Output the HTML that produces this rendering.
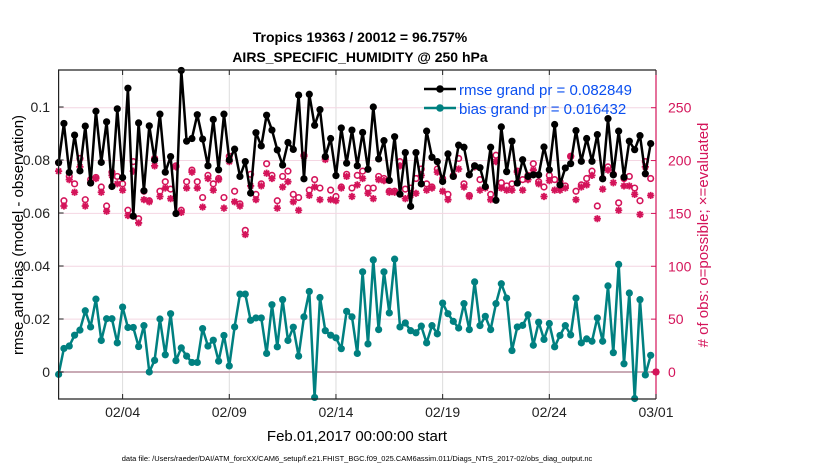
<!DOCTYPE html>
<html><head><meta charset="utf-8">
<style>
html,body{margin:0;padding:0;background:#fff;}
svg{display:block;font-family:"Liberation Sans",Arial,sans-serif;}
</style></head>
<body>
<svg id="chart" width="830" height="470" viewBox="0 0 830 470" xmlns="http://www.w3.org/2000/svg">
  <text x="360" y="42" text-anchor="middle" font-size="14" font-weight="bold">Tropics 19363 / 20012 = 96.757%</text>
  <text x="360" y="62" text-anchor="middle" font-size="14" font-weight="bold">AIRS_SPECIFIC_HUMIDITY @ 250 hPa</text>
  <g id="grid"></g>
  <g id="marks"></g>
  <g id="axes"></g>
  <text transform="translate(23,235) rotate(-90)" text-anchor="middle" font-size="15">rmse and bias (model - observation)</text>
  <text transform="translate(708,235) rotate(-90)" text-anchor="middle" font-size="15" fill="#d4145a">#  of obs: o=possible; ×=evaluated</text>
  <text x="357" y="441" text-anchor="middle" font-size="15">Feb.01,2017 00:00:00 start</text>
  <text x="357" y="461" text-anchor="middle" font-size="7.5">data file: /Users/raeder/DAI/ATM_forcXX/CAM6_setup/f.e21.FHIST_BGC.f09_025.CAM6assim.011/Diags_NTrS_2017-02/obs_diag_output.nc</text>
  <g>
    <g>
      <line x1="424" y1="89" x2="456" y2="89" stroke="#000" stroke-width="2.5"/>
      <circle cx="440" cy="89" r="3.8" fill="#000"/>
      <text x="459" y="95" font-size="15" fill="#0a4ff0">rmse grand pr = 0.082849</text>
    </g>
    <g>
      <line x1="424" y1="108" x2="456" y2="108" stroke="#008080" stroke-width="2.5"/>
      <circle cx="440" cy="108" r="3.8" fill="#008080"/>
      <text x="459" y="114" font-size="15" fill="#0a4ff0">bias grand pr = 0.016432</text>
    </g>
  </g>
</svg>
<script>
const rmse = [0.079,0.0938,0.0753,0.0894,0.0759,0.0928,0.0713,0.0984,0.0791,0.0944,0.070,0.0993,0.0734,0.1071,0.0588,0.094,0.0684,0.0929,0.080,0.0973,0.0754,0.0813,0.0598,0.1138,0.0871,0.0881,0.0971,0.0879,0.0778,
0.0953,0.0763,0.0973,0.080,0.0841,0.0738,0.0794,0.0675,0.0903,0.0853,0.0969,0.0913,0.0838,0.0781,0.0866,0.084,0.1045,0.0729,0.1048,0.0931,0.099,0.0813,0.0881,0.0741,0.0921,0.0788,0.0913,0.0778,
0.0904,0.0765,0.100,0.0804,0.0873,0.0723,0.0888,0.0671,0.0828,0.0625,0.0828,0.071,0.0909,0.081,0.0794,0.0719,0.0823,0.0738,0.0856,0.0848,0.0744,0.0778,0.0771,0.070,0.0848,0.0648,0.0925,0.0756,
0.0871,0.0713,0.0801,0.0738,0.0744,0.0744,0.0849,0.0763,0.0934,0.0706,0.077,0.0786,0.0911,0.0795,0.0881,0.0795,0.0896,0.0729,0.0956,0.0744,0.0909,0.0735,0.0871,0.0839,0.0892,0.0748,0.0862];
const bias = [-0.0009,0.0089,0.0098,0.0139,0.0158,0.0231,0.017,0.0275,0.0119,0.0201,0.0201,0.011,0.0245,0.0168,0.0168,0.0096,0.0175,0.0,0.0044,0.02,0.0065,0.022,0.0043,0.0091,0.006,0.0036,0.0036,0.0164,0.0098,
0.012,0.0041,0.0138,0.0023,0.017,0.0294,0.0294,0.0195,0.0204,0.0204,0.007,0.0254,0.0095,0.0273,0.0119,0.0169,0.006,0.0208,0.0304,-0.0096,0.0281,0.0156,0.0139,0.0129,0.0088,0.0229,0.0208,0.007,
0.0378,0.0106,0.0423,0.016,0.0378,0.0223,0.0426,0.017,0.0185,0.0156,0.0148,0.0173,0.011,0.0175,0.0144,0.026,0.022,0.0191,0.0166,0.0258,0.016,0.034,0.0175,0.021,0.016,0.0258,0.0333,0.0279,
0.0081,0.017,0.0176,0.0216,0.0101,0.0188,0.0123,0.0183,0.0095,0.0138,0.0175,0.014,0.0279,0.011,0.0125,0.0116,0.0204,0.0116,0.0325,0.0073,0.0406,0.0031,0.0298,-0.01,0.0273,-0.0011,0.0063];
const possible = [198,162,185,178,202,163,182,184,175,157,189,185,178,153,199,145,171,162,202,171,180,173,195,153,180,191,180,165,186,
178,183,165,204,171,159,134,187,168,178,197,186,162,185,190,168,165,205,172,182,174,203,172,166,175,187,174,186,
190,174,174,185,183,171,171,199,173,174,183,192,178,175,192,183,168,186,202,178,167,195,182,175,168,205,179,176,
178,190,182,186,197,180,175,186,182,180,176,204,171,177,183,190,157,183,194,187,160,183,185,174,162,199,183,0];
const evaluated = [190,157,182,170,194,157,179,183,170,152,186,178,172,148,190,141,163,161,195,166,174,164,194,151,174,189,174,156,183,
172,182,155,199,161,157,130,176,163,176,188,183,155,175,180,161,153,204,167,175,163,201,163,162,174,185,166,177,
183,169,164,182,181,170,170,195,164,167,169,186,172,174,189,171,163,185,192,175,166,194,172,174,163,199,174,172,
172,189,172,182,191,178,166,181,172,172,174,204,163,175,177,186,145,173,191,179,153,176,176,168,149,194,167,0];
const xTickLabels = ["02/04","02/09","02/14","02/19","02/24","03/01"];
const xTickDays = [3,8,13,18,23,28];
const leftTicks = [0,0.02,0.04,0.06,0.08,0.1];
const leftTickLabels = ["0","0.02","0.04","0.06","0.08","0.1"];
const rightTicks = [0,50,100,150,200,250];

const NS = "http://www.w3.org/2000/svg";
const L=58.6, R=656, T=70, B=399;
const pxPerDay = (R-L)/28;
function xDay(d){ return L + d*pxPerDay; }
function xIdx(i){ return xDay(i/4); }
function yL(v){ return 372 - v*(265/0.1); }
function yR(c){ return 372 - c*(264.3/250); }
function mk(tag, attrs, parent){ const e=document.createElementNS(NS,tag); for(const k in attrs) e.setAttribute(k,attrs[k]); parent.appendChild(e); return e; }

const grid=document.getElementById('grid'), marks=document.getElementById('marks'), axes=document.getElementById('axes');
// vertical grid
xTickDays.forEach(function(d,k){
  const g=mk('line',{x1:xDay(d),x2:xDay(d),y1:T,y2:B,stroke:'#dcdcdc','stroke-width':1},grid);
  
  
});
rightTicks.forEach(function(c){
  if(c===0) return;
  const g=mk('line',{x1:L,x2:R,y1:yR(c),y2:yR(c),stroke:'#f4d6e2','stroke-width':1},grid);
  
  
});
const zl=mk('line',{x1:L,x2:R,y1:yL(0),y2:yL(0),stroke:'#c9aab5','stroke-width':2},grid);



// possible (rings) and evaluated (stars)
possible.forEach(function(c,i){
  const cx=xIdx(i), cy=yR(c);
  const e=mk('circle',{cx:cx,cy:cy,r:2.8,fill:'none',stroke:'#d4145a','stroke-width':1.6},marks);
  
  
});
evaluated.forEach(function(c,i){
  const cx=xIdx(i), cy=yR(c), s=3.6;
  const d='M'+(cx-s)+' '+cy+'H'+(cx+s)+'M'+cx+' '+(cy-s)+'V'+(cy+s)+
    'M'+(cx-s*0.72)+' '+(cy-s*0.72)+'L'+(cx+s*0.72)+' '+(cy+s*0.72)+
    'M'+(cx-s*0.72)+' '+(cy+s*0.72)+'L'+(cx+s*0.72)+' '+(cy-s*0.72);
  const e=mk('path',{d:d,stroke:'#d4145a','stroke-width':1.8,fill:'none'},marks);
  
  
});
function series(vals,color,name){
  const pts=vals.map(function(v,i){return xIdx(i).toFixed(1)+','+yL(v).toFixed(1);}).join(' ');
  const pl=mk('polyline',{points:pts,fill:'none',stroke:color,'stroke-width':2.5,'stroke-linejoin':'round'},marks);
  
  
  vals.forEach(function(v,i){
    const c=mk('circle',{cx:xIdx(i),cy:yL(v),r:3.6,fill:color},marks);
    
    
  });
}
series(bias,'#008080','bias');
series(rmse,'#000000','rmse');

// frame
const fr=mk('path',{d:'M'+R+' '+T+'H'+L+'V'+B+'H'+R,fill:'none',stroke:'#222','stroke-width':1.2},axes);


const ra=mk('line',{x1:R,x2:R,y1:T,y2:B,stroke:'#d4145a','stroke-width':1.2},axes);


xTickDays.forEach(function(d,k){
  const x=xDay(d);
  const t=mk('line',{x1:x,x2:x,y1:B,y2:B-5,stroke:'#222','stroke-width':1},axes);
  
  
  const t2=mk('line',{x1:x,x2:x,y1:T,y2:T+5,stroke:'#222','stroke-width':1},axes);
  
  
  const lb=mk('text',{x:x,y:417,'text-anchor':'middle','font-size':14,fill:'#222'},axes);
  lb.textContent=xTickLabels[k];
  
  
});
leftTicks.forEach(function(v,k){
  const y=yL(v);
  const t=mk('line',{x1:L,x2:L+5,y1:y,y2:y,stroke:'#222','stroke-width':1},axes);
  
  
  const lb=mk('text',{x:50,y:y+5,'text-anchor':'end','font-size':14,fill:'#222'},axes);
  lb.textContent=leftTickLabels[k];
  
  
});
rightTicks.forEach(function(c){
  const y=yR(c);
  const t=mk('line',{x1:R-5,x2:R,y1:y,y2:y,stroke:'#d4145a','stroke-width':1},axes);
  
  
  const lb=mk('text',{x:668,y:y+5,'text-anchor':'start','font-size':14,fill:'#d4145a'},axes);
  lb.textContent=String(c);
  
  
});
</script>
</body></html>
